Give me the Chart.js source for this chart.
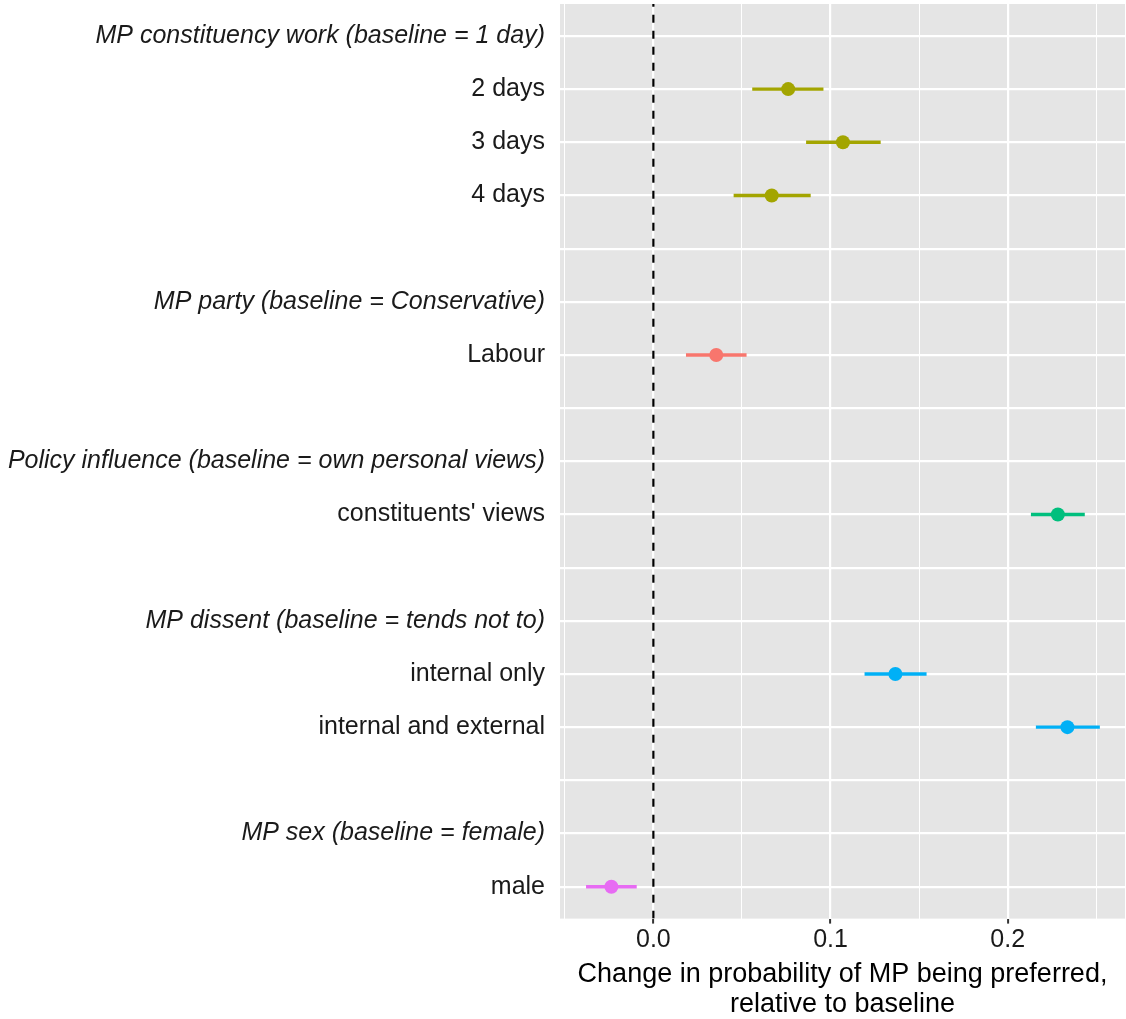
<!DOCTYPE html>
<html>
<head>
<meta charset="utf-8">
<script src="https://cdn.jsdelivr.net/npm/chart.js@4.4.1/dist/chart.umd.min.js"></script>
<style>
  html, body { margin: 0; padding: 0; background: #ffffff; }
  #wrap { width: 1126px; height: 1019px; position: relative; }
</style>
</head>
<body>
<div id="wrap"><canvas id="c" width="1126" height="1019"></canvas></div>
<script>
// ---- Data ----
const rowLabels = [
  'MP constituency work (baseline = 1 day)',
  '2 days', '3 days', '4 days', '',
  'MP party (baseline = Conservative)',
  'Labour', '',
  'Policy influence (baseline = own personal views)',
  "constituents' views", '',
  'MP dissent (baseline = tends not to)',
  'internal only', 'internal and external', '',
  'MP sex (baseline = female)',
  'male'
];
const headerRows = [0, 5, 8, 11, 15];

const terms     = ['2 days', '3 days', '4 days', 'Labour', "constituents' views", 'internal only', 'internal and external', 'male'];
const estimates = [0.0761, 0.1070, 0.0668, 0.0355, 0.2283, 0.1366, 0.2337, -0.0237];
const lower     = [0.0558, 0.0862, 0.0453, 0.0184, 0.2131, 0.1192, 0.2159, -0.0380];
const upper     = [0.0960, 0.1283, 0.0888, 0.0526, 0.2435, 0.1542, 0.2520, -0.0094];
const groups    = ['MP constituency work', 'MP constituency work', 'MP constituency work', 'MP party', 'Policy influence', 'MP dissent', 'MP dissent', 'MP sex'];

const groupColors = {
  'MP party': '#F8766D',
  'MP constituency work': '#A3A500',
  'Policy influence': '#00BF7D',
  'MP dissent': '#00B0F6',
  'MP sex': '#E76BF3'
};

const xTicks = [-0.05, 0, 0.05, 0.1, 0.15, 0.2, 0.25];
const xMajor = [0, 0.1, 0.2];
const refLine = 0;
const xMin = -0.0527, xMax = 0.2662;

// ---- Build datasets ----
const rowPos = t => rowLabels.indexOf(t) + 1;
const datasets = [];

datasets.push({
  type: 'line',
  data: [{x: refLine, y: 0}, {x: refLine, y: rowLabels.length + 1}],
  borderColor: '#000000',
  borderWidth: 2.2,
  borderDash: [8, 8],
  pointRadius: 0,
  order: 3
});

terms.forEach((t, i) => {
  datasets.push({
    type: 'line',
    data: [{x: lower[i], y: rowPos(t)}, {x: upper[i], y: rowPos(t)}],
    borderColor: groupColors[groups[i]],
    borderWidth: 3.4,
    pointRadius: 0,
    borderCapStyle: 'butt',
    order: 2
  });
});

datasets.push({
  type: 'scatter',
  data: terms.map((t, i) => ({x: estimates[i], y: rowPos(t)})),
  backgroundColor: groups.map(g => groupColors[g]),
  borderColor: groups.map(g => groupColors[g]),
  pointRadius: 7,
  pointBorderWidth: 0,
  order: 1
});

const panelBg = {
  id: 'panelBg',
  beforeDraw(chart) {
    const a = chart.chartArea, ctx = chart.ctx;
    ctx.save();
    ctx.fillStyle = '#E5E5E5';
    ctx.fillRect(a.left, a.top, a.right - a.left, a.bottom - a.top);
    ctx.restore();
  }
};

const isMajor = v => xMajor.some(m => Math.abs(m - v) < 1e-9);
const FONT = 'Liberation Sans, Arial, sans-serif';

new Chart(document.getElementById('c'), {
  type: 'scatter',
  data: { datasets },
  plugins: [panelBg],
  options: {
    responsive: false,
    animation: false,
    events: [],
    layout: { autoPadding: false, padding: { top: 4, right: 1, bottom: 0, left: 0 } },
    plugins: { legend: { display: false }, tooltip: { enabled: false } },
    scales: {
      x: {
        type: 'linear',
        min: xMin, max: xMax,
        afterBuildTicks: s => { s.ticks = xTicks.map(v => ({value: v})); },
        afterFit: s => { s.paddingLeft = 0; s.paddingRight = 0; },
        ticks: {
          autoSkip: false,
          maxRotation: 0,
          padding: 2,
          color: '#1a1a1a',
          font: { family: FONT, size: 25 },
          callback: v => isMajor(v) ? v.toFixed(1) : ''
        },
        grid: {
          color: '#FFFFFF',
          lineWidth: c => isMajor(c.tick.value) ? 2.2 : 1,
          tickLength: 5,
          tickColor: c => isMajor(c.tick.value) ? '#333333' : 'rgba(0,0,0,0)',
          tickWidth: 2
        },
        border: { display: false },
        title: {
          display: true,
          text: ['Change in probability of MP being preferred,', 'relative to baseline'],
          color: '#000000',
          font: { family: FONT, size: 27, lineHeight: 1.1 },
          padding: { top: 2, bottom: 0 }
        }
      },
      y: {
        type: 'linear',
        reverse: true,
        min: 0.4, max: rowLabels.length + 0.6,
        afterBuildTicks: s => { s.ticks = rowLabels.map((_, i) => ({value: i + 1})); },
        afterFit: s => { s.width = 560; s.paddingTop = 0; s.paddingBottom = 0; },
        ticks: {
          autoSkip: false,
          padding: 15,
          color: '#1a1a1a',
          font: c => ({
            family: FONT,
            size: 25,
            style: headerRows.includes(c.index) ? 'italic' : 'normal'
          }),
          callback: (v) => rowLabels[Math.round(v) - 1] || ''
        },
        grid: {
          color: '#FFFFFF',
          lineWidth: 2.2,
          drawTicks: false
        },
        border: { display: false }
      }
    }
  }
});
</script>
</body>
</html>
